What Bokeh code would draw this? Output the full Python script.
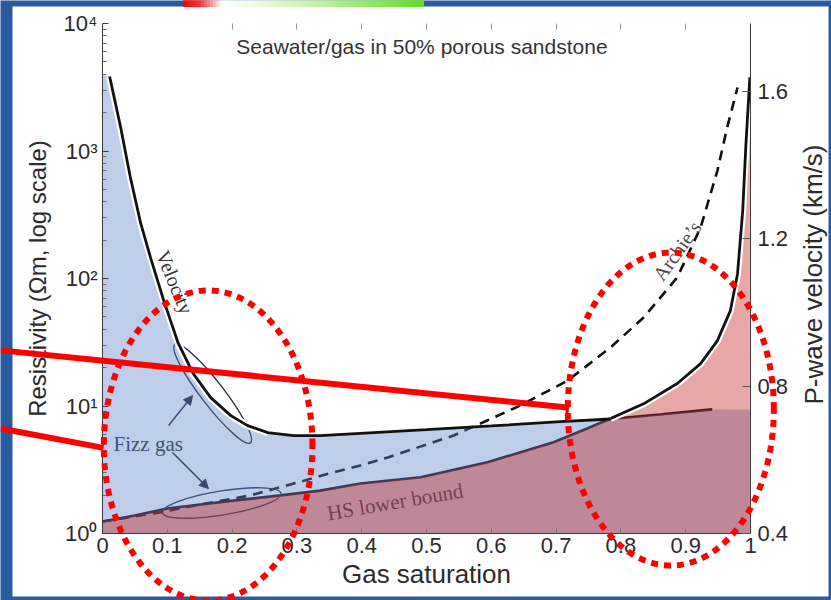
import numpy as np
from bokeh.plotting import figure
from bokeh.layouts import column
from bokeh.models import (LinearAxis, Range1d, FixedTicker, CustomJSTickFormatter,
                          Arrow, NormalHead, TeeHead, LinearScale)
from bokeh.core.properties import value
from bokeh.embed import file_html
from bokeh.resources import INLINE

# ---------------- data ----------------
# P-wave velocity (km/s) versus gas saturation
vel_sg = [0.011, 0.028, 0.043, 0.059, 0.074, 0.093, 0.105, 0.117, 0.140, 0.167, 0.198,
          0.224, 0.255, 0.295, 0.336, 0.398, 0.500, 0.600, 0.700, 0.784, 0.860, 0.941]
vel_kms = [1.641, 1.503, 1.367, 1.242, 1.150, 1.041, 0.978, 0.916, 0.834, 0.769, 0.720,
           0.693, 0.674, 0.666, 0.666, 0.672, 0.682, 0.692, 0.703, 0.711, 0.723, 0.737]
vel_fill_start = (0.0, 1.645)   # blue band edge at the left axis
vel_fill_end = (1.0, 0.736)     # blue band edge at the right axis

# Hashin-Shtrikman lower bound resistivity (ohm-m)
hs_sg = [0.0, 0.048, 0.100, 0.202, 0.275, 0.336, 0.398, 0.491, 0.594, 0.696, 0.748, 0.784,
         0.835, 0.887, 0.923, 0.949, 0.969, 0.980, 0.988, 0.993, 0.999]
hs_res = [1.24, 1.38, 1.57, 1.81, 1.99, 2.17, 2.47, 2.76, 3.62, 5.20, 6.66, 7.98,
          10.4, 15.0, 21.5, 32.6, 56.0, 109.0, 341.0, 1144.0, 3790.0]

# Archie's law resistivity (ohm-m)
ar_sg = [0.0, 0.090, 0.151, 0.228, 0.306, 0.336, 0.398, 0.440, 0.542, 0.645, 0.718, 0.784,
         0.835, 0.887, 0.923, 0.949, 0.964, 0.980]
ar_res = [1.24, 1.47, 1.69, 1.99, 2.55, 2.83, 3.41, 3.95, 5.87, 10.1, 15.85, 28.8,
          49.4, 102.0, 251.0, 703.0, 1528.0, 3150.0]

cross_sg = 0.784          # where velocity line meets HS bound
outline_end_sg = 0.255    # white halo of velocity curve ends here

# axes
x_ticks = [0, 0.1, 0.2, 0.3, 0.4, 0.5, 0.6, 0.7, 0.8, 0.9, 1]
x_tick_labels = ["0", "0.1", "0.2", "0.3", "0.4", "0.5", "0.6", "0.7", "0.8", "0.9", "1"]
top_ticks = [0.2, 0.3, 0.4, 0.5, 0.6, 0.7, 0.8, 0.9]
res_ticks = [1, 10, 100, 1000, 10000]
res_tick_labels = ["10\u2070", "10\u00b9", "10\u00b2", "10\u00b3", "10\u2074"]
vel_ticks = [0.4, 0.8, 1.2, 1.6]
vel_axis_top = 1.785
right_label = "P-wave velocity (km/s)"

# annotations (data units: gas saturation, resistivity)
fizz_ell_sg = [0.170, 0.184]
fizz_ell_res = [12.5, 1.735]
fizz_ell_len = [124, 120]
fizz_ell_wid = [23, 24]
fizz_ell_ang = [-0.916, 0.16]
fizz_arrows = [(0.102, 7.03, 0.139, 12.08), (0.108, 4.32, 0.1636, 2.25)]

# red highlight overlays (data units)
red_lines = [(-0.157, 27.3, 0.7176, 9.73, True), (-0.157, 6.66, 0.0015, 4.69, False)]
red_ell_sg = [0.163, 0.877]
red_ell_half_sg = [0.161, 0.159]
red_ell_dec = [0.690, 0.976]
red_ell_half_dec = [1.216, 1.227]

# ---------------- geometry of the slide ----------------
W, H = 831, 600
FR_L, FR_R, FR_T, FR_B = 102, 750, 23, 533    # plot frame on the canvas
def cx(px):
    return (px - FR_L) / (FR_R - FR_L)
def cy(py):
    return 10 ** (4.0 * (FR_B - py) / (FR_B - FR_T))

SANS = "Liberation Sans"
SERIF = "Liberation Serif"
AXC = "#3a3a3a"
TXT = "#2b2b2b"
BLUE_BG = "#2a5aa0"

def full_canvas_fig(**kw):
    f = figure(frame_width=W, frame_height=H, title=None,
               x_range=Range1d(cx(0), cx(W)), y_range=Range1d(cy(H), cy(0)),
               y_axis_type="log", x_axis_location=None, y_axis_location=None,
               min_border=0, toolbar_location=None, output_backend="svg",
               outline_line_color=None, frame_align=False, **kw)
    f.grid.visible = False
    return f

# ---- bottom layer: slide background, white panel, gradient bar ----
deco = full_canvas_fig(background_fill_color=BLUE_BG, border_fill_color=BLUE_BG)
deco.quad(left=[cx(12)], right=[cx(828)], top=[cy(6)], bottom=[cy(596)],
          fill_color="white", line_color=None)
stops = [(183, (250, 0, 0)), (200, (250, 50, 50)), (222, (255, 255, 255)),
         (300, (212, 245, 185)), (423, (95, 222, 35))]
gl, gr, gc = [], [], []
for px in range(183, 423, 3):
    xm = min(px + 1.5, 423)
    for (a, ca), (b, cb) in zip(stops[:-1], stops[1:]):
        if a <= xm <= b:
            f = (xm - a) / (b - a)
            col = tuple(max(0, min(255, int(round(ca[k] + f * (cb[k] - ca[k])))))
                        for k in range(3))
            break
    gl.append(cx(px)); gr.append(cx(min(px + 3, 423))); gc.append("#%02x%02x%02x" % col)
deco.quad(left=gl, right=gr, top=cy(0), bottom=cy(6), fill_color=gc,
          line_color=gc, line_width=1.2)

# ---- middle layer: the chart ----
p = figure(frame_width=648, frame_height=510, x_range=Range1d(0, 1),
           y_range=Range1d(1, 1e4), y_axis_type="log", title=None,
           output_backend="svg", toolbar_location=None, frame_align=False,
           min_border_left=FR_L, min_border_right=W - FR_R, min_border_top=FR_T,
           min_border_bottom=H - FR_B,
           border_fill_color=None, background_fill_color=None,
           outline_line_color=None, margin=(-H, 0, 0, 0))
p.extra_y_ranges = {"vel": Range1d(0.4, vel_axis_top)}
p.extra_y_scales = {"vel": LinearScale()}
p.xgrid.visible = False
p.ygrid.visible = False

xa = p.xaxis[0]
xa.ticker = FixedTicker(ticks=x_ticks)
xa.formatter = CustomJSTickFormatter(args=dict(t=x_ticks, l=x_tick_labels), code="""
let bi = 0, bd = Infinity;
for (let i = 0; i < t.length; i++) { const d = Math.abs(t[i] - tick); if (d < bd) { bd = d; bi = i; } }
return l[bi];""")
xa.axis_label = "Gas saturation"
xa.axis_label_text_font = SANS
xa.axis_label_text_font_size = "26px"
xa.axis_label_text_font_style = "normal"
xa.axis_label_text_color = TXT
xa.axis_label_standoff = 3
xa.major_label_text_font = SANS
xa.major_label_text_font_size = "22px"
xa.major_label_text_color = TXT
xa.major_label_standoff = 4
xa.major_tick_in = 5
xa.major_tick_out = 0
xa.minor_tick_line_color = None
xa.axis_line_color = AXC
xa.major_tick_line_color = "#777"

ya = p.yaxis[0]
ya.ticker = FixedTicker(ticks=res_ticks,
                        minor_ticks=[m * 10 ** k for k in range(4) for m in range(2, 10)])
ya.formatter = CustomJSTickFormatter(args=dict(t=res_ticks, l=res_tick_labels), code="""
let bi = 0, bd = Infinity;
for (let i = 0; i < t.length; i++) { const d = Math.abs(Math.log10(t[i]) - Math.log10(tick)); if (d < bd) { bd = d; bi = i; } }
return l[bi];""")
ya.axis_label = "Resistivity (\u03a9m, log scale)"
ya.axis_label_text_font = SANS
ya.axis_label_text_font_size = "24px"
ya.axis_label_text_font_style = "normal"
ya.axis_label_text_color = TXT
ya.axis_label_standoff = 10
ya.major_label_text_font = SANS
ya.major_label_text_font_size = "22px"
ya.major_label_text_color = TXT
ya.major_label_standoff = 5
ya.major_tick_in = 6
ya.major_tick_out = 0
ya.minor_tick_in = 4
ya.minor_tick_out = 0
ya.axis_line_color = AXC
ya.major_tick_line_color = AXC
ya.minor_tick_line_color = "#666"

ra = LinearAxis(y_range_name="vel", ticker=FixedTicker(ticks=vel_ticks))
ra.major_label_text_font = SANS
ra.major_label_text_font_size = "22px"
ra.major_label_text_color = TXT
ra.major_label_standoff = 7
ra.major_tick_in = 8
ra.major_tick_out = 0
ra.minor_tick_line_color = None
ra.axis_line_color = AXC
ra.major_tick_line_color = "#555"
p.add_layout(ra, "right")

ta = LinearAxis(ticker=FixedTicker(ticks=top_ticks),
                formatter=CustomJSTickFormatter(code="return ''"))
ta.axis_line_color = None
ta.major_tick_in = 6
ta.major_tick_out = 0
ta.major_tick_line_color = "#999"
ta.minor_tick_line_color = None
ta.major_label_standoff = 0
ta.major_label_text_font_size = "1px"
p.add_layout(ta, "above")

# layer 1: thin lines & labels that sit under the translucent bands
p.line(ar_sg, ar_res, line_color="#111111", line_width=2.6, line_dash="10 7")
ic_h = hs_sg.index(cross_sg)
ic_v = vel_sg.index(cross_sg)
p.line(hs_sg[:ic_h + 1], hs_res[:ic_h + 1], line_color="#0d1220", line_width=2.6)
p.line(vel_sg[ic_v:], vel_kms[ic_v:], y_range_name="vel", line_color="#111111", line_width=2.6)
p.ellipse(x=fizz_ell_sg, y=fizz_ell_res, width=fizz_ell_len, height=fizz_ell_wid,
          angle=fizz_ell_ang, width_units="screen", height_units="screen",
          fill_color=None, line_color="#26324a", line_width=1.4)
p.text(x=[0.017], y=[5.08], text=["Fizz gas"], text_font=value(SERIF),
       text_font_size="21px", text_color="#333333", text_align="left",
       text_baseline="alphabetic")
p.text(x=[0.347], y=[1.435], text=["HS lower bound"], angle=[0.17], text_font=value(SERIF),
       text_font_size="21px", text_color="#3a3a3a", text_align="left",
       text_baseline="alphabetic")
for (x0, y0, x1, y1) in fizz_arrows:
    p.add_layout(Arrow(x_start=x0, y_start=y0, x_end=x1, y_end=y1,
                       end=NormalHead(size=9, fill_color="#1f2638", line_color="#1f2638"),
                       line_color="#1f2638", line_width=1.4, level="underlay"))

# layer 2: translucent bands
blue_sg = [vel_fill_start[0]] + vel_sg + [vel_fill_end[0]]
blue_v = [vel_fill_start[1]] + vel_kms + [vel_fill_end[1]]
p.varea(x=blue_sg, y1=0.4, y2=blue_v, y_range_name="vel",
        fill_color="#5d82c8", fill_alpha=0.40)
p.varea(x=hs_sg, y1=1, y2=hs_res, fill_color="#c01a1a", fill_alpha=0.385)

# layer 3: bold curves on top
io = vel_sg.index(outline_end_sg)
p.line(vel_sg[:io + 1], vel_kms[:io + 1], y_range_name="vel", line_color="white", line_width=7)
p.line(vel_sg[:ic_v + 1], vel_kms[:ic_v + 1], y_range_name="vel",
       line_color="#111111", line_width=2.8)
p.line(hs_sg[ic_h:], hs_res[ic_h:], line_color="white", line_width=7)
p.line(hs_sg[ic_h:], hs_res[ic_h:], line_color="#111111", line_width=2.8)

p.text(x=[0.092], y=[163.0], text=["Velocity"], angle=[-1.18], text_font=value(SERIF),
       text_font_size="20px", text_color="#333333", text_align="left",
       text_baseline="alphabetic")
p.text(x=[0.856], y=[100.0], text=["Archie\u2019s"], angle=[0.95], text_font=value(SERIF),
       text_font_size="20px", text_color="#4a4a4a", text_align="left",
       text_baseline="alphabetic")
p.text(x=[0.493], y=[6607.0], text=["Seawater/gas in 50% porous sandstone"],
       text_font=value(SANS), text_font_size="21px", text_color="#333333",
       text_align="center", text_baseline="middle")

# ---- top layer: right-axis title and red highlight overlays ----
over = full_canvas_fig(background_fill_color=None, border_fill_color=None)
over.margin = (-H, 0, 0, 0)
over.text(x=[cx(813)], y=[cy(274)], text=[right_label], angle=[np.pi / 2],
          text_font=value(SANS), text_font_size="26px", text_color=TXT,
          text_align="center", text_baseline="middle")
for (x0, y0, x1, y1, tee) in red_lines:
    over.add_layout(Arrow(x_start=x0, y_start=y0, x_end=x1, y_end=y1,
                          end=TeeHead(size=13, line_color="#ff0000", line_width=3) if tee else None,
                          line_color="#ff0000", line_width=6))
t = np.linspace(0, 2 * np.pi, 361)
for c, a, d, b in zip(red_ell_sg, red_ell_half_sg, red_ell_dec, red_ell_half_dec):
    over.line(x=(c + a * np.cos(t)).tolist(), y=(10 ** (d + b * np.sin(t))).tolist(),
              line_color="#ff0000", line_width=6, line_dash="7 6")

layout = column(deco, p, over, spacing=0)
open("out.html", "w").write(file_html(layout, INLINE))
